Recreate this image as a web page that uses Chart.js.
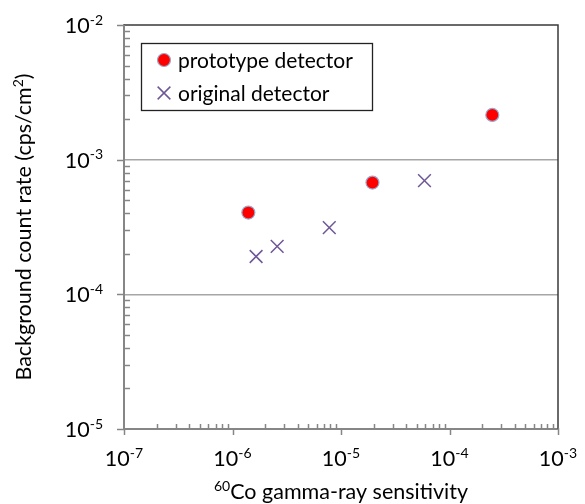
<!DOCTYPE html>
<html>
<head>
<meta charset="utf-8">
<script src="https://cdn.jsdelivr.net/npm/chart.js@4.4.0/dist/chart.umd.min.js"></script>
<style>
  html, body { margin: 0; padding: 0; background: #fff; }
  #chart { display: block; }
</style>
</head>
<body>
<canvas id="chart" width="585" height="504"></canvas>
<script>
// data
const protoX = [1.40e-6, 1.95e-5, 2.48e-4];
const protoY = [4.05e-4, 6.76e-4, 2.15e-3];
const origX = [1.65e-6, 2.58e-6, 7.8e-6, 5.88e-5];
const origY = [1.91e-4, 2.27e-4, 3.13e-4, 6.99e-4];

const xDecades = [1e-7, 1e-6, 1e-5, 1e-4, 1e-3];
const xTickExp = ['-7', '-6', '-5', '-4', '-3'];
const yDecades = [1e-5, 1e-4, 1e-3, 1e-2];
const yTickExp = ['-5', '-4', '-3', '-2'];
const minorSteps = [2, 3, 4, 5, 6, 7, 8, 9];

const seriesNames = ['prototype detector', 'original detector'];

const FONT = 'Lato, "Open Sans", sans-serif';
const TICK_SIZE = 21.5;
const TITLE_SIZE = 21.5;
const LEGEND_SIZE = 21;

const axisGray = '#868686';
const borderDark = '#3a3a3a';

// draw text made of normal and superscript parts
function richWidth(ctx, parts, size) {
    let w = 0;
    parts.forEach(p => {
        ctx.font = (p.sup ? Math.round(size * 0.64) : size) + 'px ' + FONT;
        w += ctx.measureText(p.t).width;
    });
    return w;
}

function drawRich(ctx, parts, x, y, size, align) {
    const w = richWidth(ctx, parts, size);
    let cx = align === 'center' ? x - w / 2 : (align === 'right' ? x - w : x);
    ctx.textAlign = 'left';
    ctx.textBaseline = 'alphabetic';
    parts.forEach(p => {
        const s = p.sup ? Math.round(size * 0.64) : size;
        ctx.font = s + 'px ' + FONT;
        ctx.fillText(p.t, cx, p.sup ? y - size * 0.38 : y);
        cx += ctx.measureText(p.t).width;
    });
}

function legendMarker(ctx, ds, x, y) {
    ctx.lineWidth = ds.borderWidth;
    ctx.strokeStyle = ds.borderColor;
    if (Chart.helpers && Chart.helpers.drawPoint) {
        ctx.fillStyle = ds.backgroundColor;
        Chart.helpers.drawPoint(ctx, {
            pointStyle: ds.pointStyle,
            radius: ds.pointRadius,
            rotation: 0,
            borderWidth: ds.borderWidth
        }, x, y);
        return;
    }
    const r = ds.pointRadius;
    ctx.beginPath();
    if (ds.pointStyle === 'circle') {
        ctx.fillStyle = ds.backgroundColor;
        ctx.arc(x, y, r, 0, Math.PI * 2);
        ctx.fill();
        ctx.stroke();
    } else {
        const o = r * Math.SQRT1_2;
        ctx.moveTo(x - o, y - o); ctx.lineTo(x + o, y + o);
        ctx.moveTo(x - o, y + o); ctx.lineTo(x + o, y - o);
        ctx.stroke();
    }
}

const frameAndLabels = {
    id: 'frameAndLabels',
    afterDraw(chart) {
        const ctx = chart.ctx;
        const area = chart.chartArea;
        const xs = chart.scales.x;
        const ys = chart.scales.y;
        ctx.save();

        // top and right frame
        ctx.strokeStyle = borderDark;
        ctx.lineWidth = 1.5;
        ctx.beginPath();
        ctx.moveTo(area.left, area.top);
        ctx.lineTo(area.right, area.top);
        ctx.lineTo(area.right, area.bottom);
        ctx.stroke();

        // tick marks
        ctx.strokeStyle = axisGray;
        ctx.lineWidth = 1.5;
        ctx.beginPath();
        xDecades.forEach((d, i) => {
            const px = Math.round(xs.getPixelForValue(d)) + 0.5;
            ctx.moveTo(px, area.bottom - 1);
            ctx.lineTo(px, area.bottom + 6);
            if (i < xDecades.length - 1) {
                minorSteps.forEach(k => {
                    const mx = Math.round(xs.getPixelForValue(d * k)) + 0.5;
                    ctx.moveTo(mx, area.bottom);
                    ctx.lineTo(mx, area.bottom - 5);
                });
            }
        });
        yDecades.forEach((d, i) => {
            const py = Math.round(ys.getPixelForValue(d)) + 0.5;
            ctx.moveTo(area.left - 7, py);
            ctx.lineTo(area.left + 1, py);
            if (i < yDecades.length - 1) {
                minorSteps.forEach(k => {
                    const my = Math.round(ys.getPixelForValue(d * k)) + 0.5;
                    ctx.moveTo(area.left, my);
                    ctx.lineTo(area.left + 6, my);
                });
            }
        });
        ctx.stroke();

        // tick labels
        ctx.fillStyle = '#000';
        xDecades.forEach((d, i) => {
            const px = xs.getPixelForValue(d);
            drawRich(ctx, [{ t: '10' }, { t: xTickExp[i], sup: true }], px, 466, TICK_SIZE, 'center');
        });
        yDecades.forEach((d, i) => {
            const py = ys.getPixelForValue(d);
            drawRich(ctx, [{ t: '10' }, { t: yTickExp[i], sup: true }], 103, py + 8, TICK_SIZE, 'right');
        });

        // axis titles
        drawRich(ctx, [{ t: '60', sup: true }, { t: 'Co gamma-ray sensitivity' }],
            (area.left + area.right) / 2, 499, TITLE_SIZE, 'center');
        ctx.save();
        ctx.translate(31, (area.top + area.bottom) / 2);
        ctx.rotate(-Math.PI / 2);
        drawRich(ctx, [{ t: 'Background count rate (cps/cm' }, { t: '2', sup: true }, { t: ')' }],
            0, 0, TITLE_SIZE, 'center');
        ctx.restore();

        // legend box inside the plot
        ctx.fillStyle = '#fff';
        ctx.fillRect(141, 43, 231, 67);
        ctx.strokeStyle = '#222';
        ctx.lineWidth = 1.3;
        ctx.strokeRect(141.5, 43.5, 231, 67);
        chart.data.datasets.forEach((ds, i) => {
            const ly = 60 + i * 33;
            legendMarker(ctx, ds, 164, ly);
            ctx.fillStyle = '#000';
            ctx.font = LEGEND_SIZE + 'px ' + FONT;
            ctx.textAlign = 'left';
            ctx.textBaseline = 'middle';
            ctx.fillText(seriesNames[i], 178, ly + 1);
        });

        ctx.restore();
    }
};

const ctx = document.getElementById('chart').getContext('2d');
new Chart(ctx, {
    type: 'scatter',
    data: {
        datasets: [
            {
                label: seriesNames[0],
                data: protoX.map((x, i) => ({ x, y: protoY[i] })),
                pointStyle: 'circle',
                pointRadius: 6.5,
                backgroundColor: '#ff0000',
                borderColor: '#93abcf',
                borderWidth: 1.2
            },
            {
                label: seriesNames[1],
                data: origX.map((x, i) => ({ x, y: origY[i] })),
                pointStyle: 'crossRot',
                pointRadius: 9,
                backgroundColor: 'transparent',
                borderColor: '#6e5797',
                borderWidth: 1.5
            }
        ]
    },
    options: {
        responsive: false,
        devicePixelRatio: 1,
        animation: false,
        layout: {
            padding: { top: 25, right: 27, left: 0, bottom: 0 }
        },
        plugins: {
            legend: { display: false },
            tooltip: { enabled: false }
        },
        scales: {
            x: {
                type: 'logarithmic',
                min: 1e-7,
                max: 1e-3,
                grid: { display: false },
                border: { display: true, color: axisGray, width: 2 },
                ticks: { display: false },
                afterFit(scale) { scale.height = 75; }
            },
            y: {
                type: 'logarithmic',
                min: 1e-5,
                max: 1e-2,
                afterBuildTicks(scale) {
                    scale.ticks = yDecades.map(v => ({ value: v, major: true }));
                },
                grid: {
                    drawTicks: false,
                    lineWidth: 1.5,
                    color: c => (c.tick && (c.tick.value === 1e-3 || c.tick.value === 1e-4)) ? '#a6a6a6' : 'transparent'
                },
                border: { display: true, color: axisGray, width: 2 },
                ticks: { display: false },
                afterFit(scale) { scale.width = 124; }
            }
        }
    },
    plugins: [frameAndLabels]
});
</script>
</body>
</html>
